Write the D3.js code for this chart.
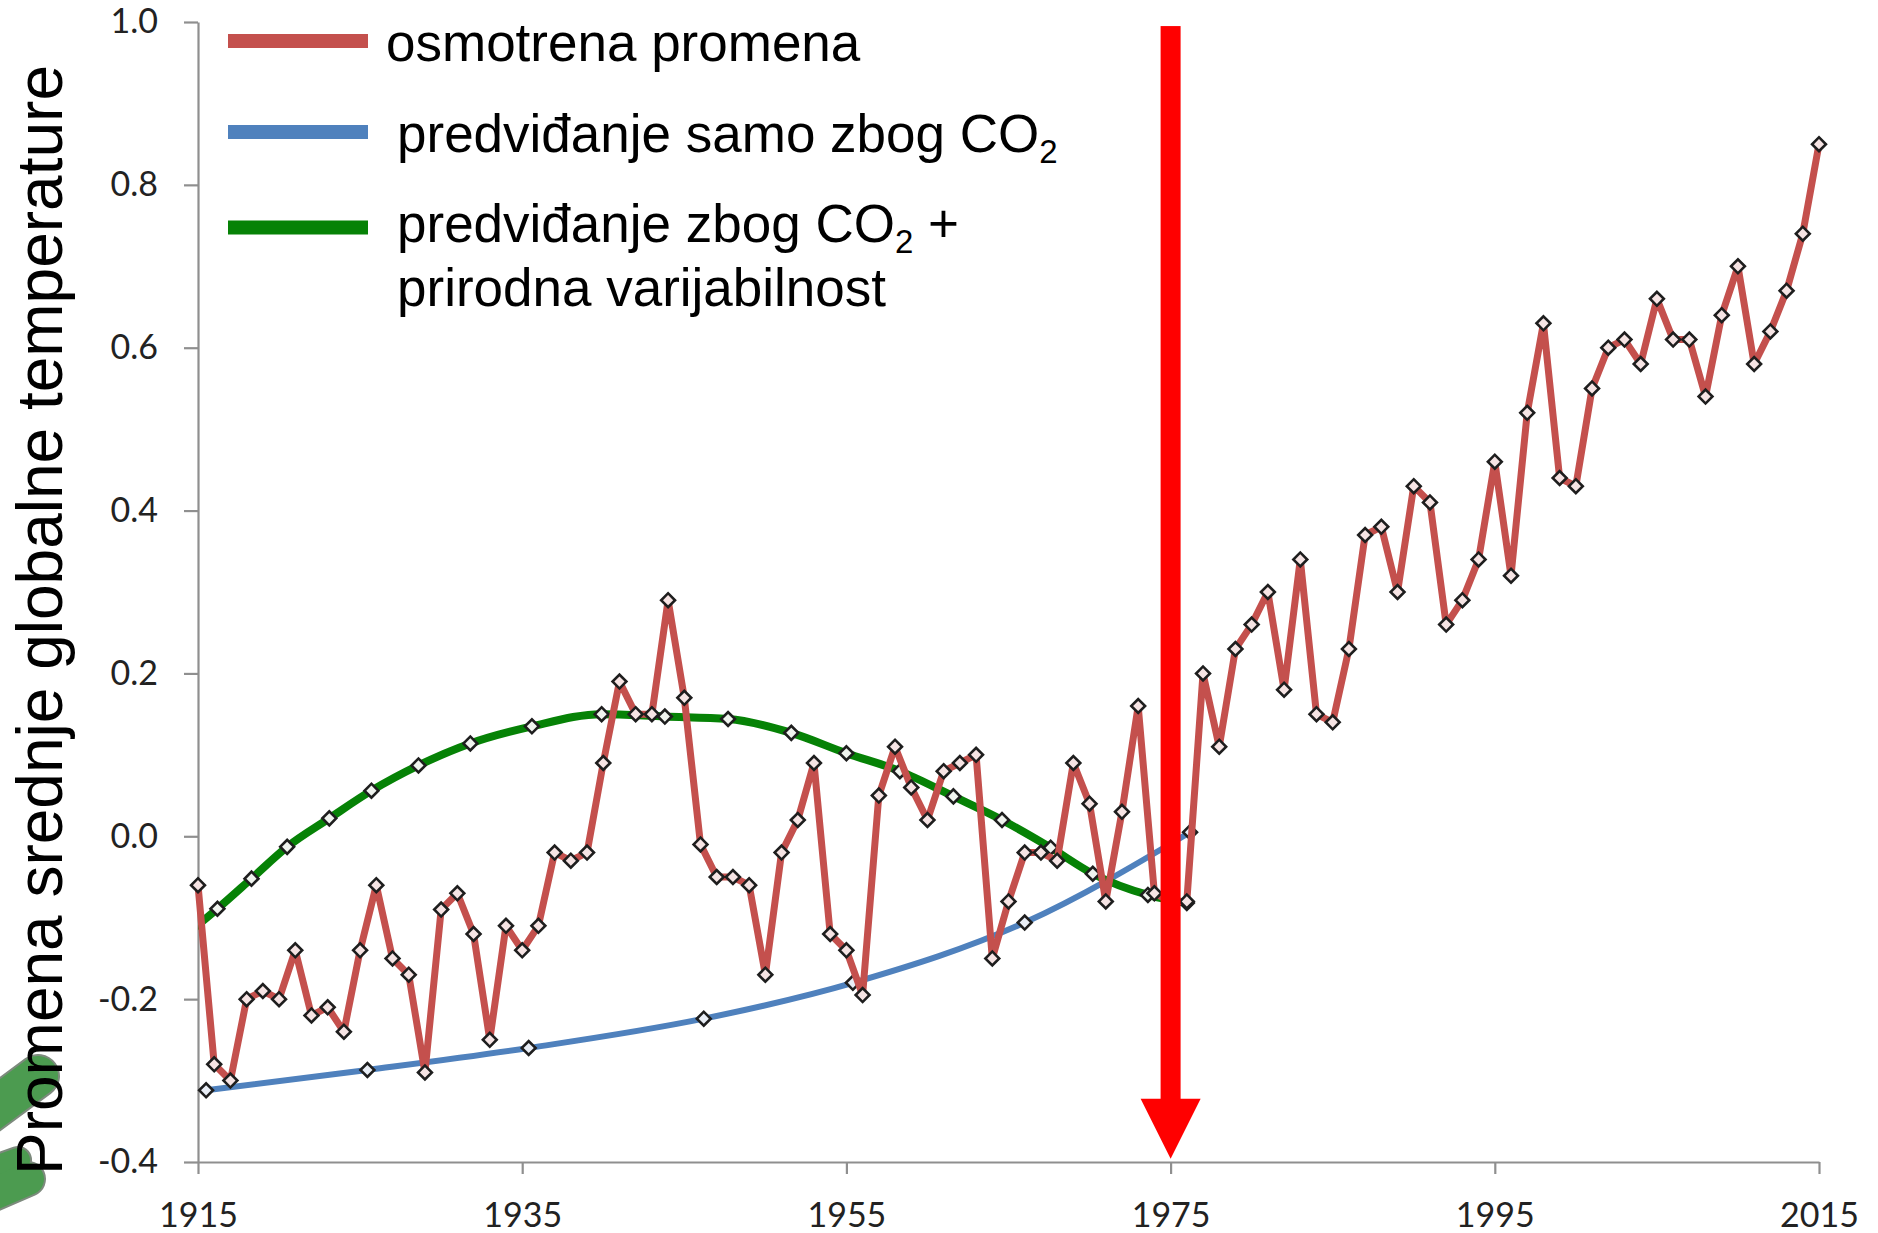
<!DOCTYPE html>
<html><head><meta charset="utf-8">
<script src="https://cdn.jsdelivr.net/npm/d3@7"></script>
<style>body{margin:0;background:#fff} svg{display:block}</style>
</head><body>
<svg id="c" width="1878" height="1233"></svg>
<script>
// ---------- data ----------
const xTicks = [1915, 1935, 1955, 1975, 1995, 2015];
const yTicks = [-0.4, -0.2, 0.0, 0.2, 0.4, 0.6, 0.8, 1.0];

const observedYears = d3.range(1915, 2016);
const observed = [
  -0.06, -0.28, -0.30, -0.20, -0.19, -0.20, -0.14, -0.22, -0.21, -0.24,
  -0.14, -0.06, -0.15, -0.17, -0.29, -0.09, -0.07, -0.12, -0.25, -0.11,
  -0.14, -0.11, -0.02, -0.03, -0.02, 0.09, 0.19, 0.15, 0.15, 0.29,
  0.17, -0.01, -0.05, -0.05, -0.06, -0.17, -0.02, 0.02, 0.09, -0.12,
  -0.14, -0.195, 0.05, 0.11, 0.06, 0.02, 0.08, 0.09, 0.10, -0.15,
  -0.08, -0.02, -0.02, -0.03, 0.09, 0.04, -0.08, 0.03, 0.16, -0.07,
  -0.08, -0.08, 0.20, 0.11, 0.23, 0.26, 0.30, 0.18, 0.34, 0.15,
  0.14, 0.23, 0.37, 0.38, 0.30, 0.43, 0.41, 0.26, 0.29, 0.34,
  0.46, 0.32, 0.52, 0.63, 0.44, 0.43, 0.55, 0.60, 0.61, 0.58,
  0.66, 0.61, 0.61, 0.54, 0.64, 0.70, 0.58, 0.62, 0.67, 0.74,
  0.85
];

const co2Years  = [1915.5, 1925.45, 1935.4, 1946.2, 1955.4, 1966.0, 1976.2];
const co2Values = [-0.312, -0.287, -0.260, -0.224, -0.180, -0.106, 0.005];

const natYears  = [1914.0, 1916.2, 1918.3, 1920.5, 1923.1, 1925.7, 1928.6, 1931.8, 1935.6, 1939.9,
                   1943.8, 1947.7, 1951.6, 1955.0, 1958.3, 1961.6, 1964.6, 1967.6, 1970.2, 1973.6, 1976.0];
const natValues = [-0.125, -0.089, -0.052, -0.013, 0.022, 0.056, 0.087, 0.114, 0.135, 0.150,
                   0.147, 0.144, 0.127, 0.102, 0.080, 0.049, 0.020, -0.014, -0.046, -0.072, -0.082];

const legendLabels = ["osmotrena promena", "predviđanje samo zbog CO", "predviđanje zbog CO", "prirodna varijabilnost"];
const axisTitle = "Promena srednje globalne temperature";
const arrowYear = 1975, arrowTop = 0.995, arrowTip = -0.396;

// ---------- setup ----------
const svg = d3.select("#c");
const x = d3.scaleLinear().domain([1915, 2015]).range([198, 1819]);
const y = d3.scaleLinear().domain([-0.4, 1.0]).range([1162, 22]);

const RED = "#c4504d", BLUE = "#4f81bd", GREEN = "#068206";

// decorative green blobs (bottom-left)
const blobs = [
  {x1: -16, y1: 1116, x2: 38, y2: 1076, w: 40},
  {x1: -16, y1: 1172, x2: 18, y2: 1160, w: 24},
  {x1: -16, y1: 1198, x2: 28, y2: 1179, w: 32}
];
const gb = svg.append("g");
blobs.forEach(b => {
  gb.append("line").attr("x1", b.x1).attr("y1", b.y1).attr("x2", b.x2).attr("y2", b.y2)
    .attr("stroke", "#7d8a7d").attr("stroke-width", b.w + 4).attr("stroke-linecap", "round");
});
blobs.forEach(b => {
  gb.append("line").attr("x1", b.x1).attr("y1", b.y1).attr("x2", b.x2).attr("y2", b.y2)
    .attr("stroke", "#4c9b50").attr("stroke-width", b.w).attr("stroke-linecap", "round");
});

// ---------- axes ----------
const yAxis = d3.axisLeft(y).tickValues(yTicks).tickFormat(d => d.toFixed(1))
  .tickSize(14).tickSizeOuter(0).tickPadding(26);
const xAxis = d3.axisBottom(x).tickValues(xTicks).tickFormat(d3.format("d"))
  .tickSize(12).tickSizeOuter(0).tickPadding(29);

const gy = svg.append("g").attr("transform", `translate(${x.range()[0]},0)`).call(yAxis);
const gx = svg.append("g").attr("transform", `translate(0,${y.range()[0]})`).call(xAxis);
[gx, gy].forEach(g => {
  g.selectAll("path.domain").attr("stroke", "#8f8f8f").attr("stroke-width", 2.2);
  g.selectAll(".tick line").attr("stroke", "#8f8f8f").attr("stroke-width", 2.2);
  g.selectAll(".tick text").attr("fill", "#222")
    .style("font-family", "Lato, 'Open Sans', sans-serif").style("font-size", "34px");
});

// y-axis title
svg.append("text")
  .attr("transform", `translate(62,620) rotate(-90)`)
  .attr("text-anchor", "middle")
  .style("font-family", "'Liberation Sans', Arial, sans-serif")
  .style("font-size", "64px").attr("fill", "#000")
  .text(axisTitle);

// ---------- series ----------
svg.append("defs").append("clipPath").attr("id", "plotclip")
  .append("rect").attr("x", x.range()[0]).attr("y", 0)
  .attr("width", x.range()[1] - x.range()[0] + 10).attr("height", 1162);

const diamond = d3.symbol().type(d3.symbolSquare).size(96);

function drawSeries(xs, vs, color, width, fill, curve, clip) {
  const pts = xs.map((xx, i) => [xx, vs[i]]);
  const g = svg.append("g");
  if (clip) g.attr("clip-path", "url(#plotclip)");
  const line = d3.line().x(d => x(d[0])).y(d => y(d[1])).curve(curve);
  g.append("path").datum(pts).attr("d", line).attr("fill", "none")
    .attr("stroke", color).attr("stroke-width", width)
    .attr("stroke-linejoin", "round").attr("stroke-linecap", "round");
  g.selectAll("path.m").data(pts).join("path").attr("class", "m")
    .attr("d", diamond)
    .attr("transform", d => `translate(${x(d[0])},${y(d[1])}) rotate(45)`)
    .attr("fill", fill).attr("stroke", "#1e1e1e").attr("stroke-width", 2.6);
}

drawSeries(co2Years, co2Values, BLUE, 6, "#e9eef6", d3.curveMonotoneX, false);
drawSeries(natYears, natValues, GREEN, 8, "#f0f4ef", d3.curveMonotoneX, true);
drawSeries(observedYears, observed, RED, 7, "#f6e4e4", d3.curveLinear, false);

// ---------- legend ----------
const legendColors = [RED, BLUE, GREEN];
const legendLineY = [41, 132, 227.5];
legendColors.forEach((c, i) => {
  svg.append("line").attr("x1", 228).attr("x2", 368)
    .attr("y1", legendLineY[i]).attr("y2", legendLineY[i])
    .attr("stroke", c).attr("stroke-width", 14);
});
const lf = "'Liberation Sans', Arial, sans-serif";
function legText(xp, yp) {
  return svg.append("text").attr("x", xp).attr("y", yp)
    .style("font-family", lf).style("font-size", "53px").attr("fill", "#000");
}
legText(386, 61).text(legendLabels[0]);
const t2 = legText(397, 152);
t2.append("tspan").text(legendLabels[1]);
t2.append("tspan").attr("dy", 11).style("font-size", "33px").text("2");
const t3 = legText(397, 242);
t3.append("tspan").text(legendLabels[2]);
t3.append("tspan").attr("dy", 11).style("font-size", "33px").text("2");
t3.append("tspan").attr("dy", -11).text(" +");
legText(397, 306).text(legendLabels[3]);

// ---------- red arrow ----------
const ax = x(arrowYear);
const headTop = y(arrowTip) - 60;
svg.append("rect").attr("x", ax - 10).attr("y", y(arrowTop))
  .attr("width", 20).attr("height", headTop - y(arrowTop) + 1).attr("fill", "#ff0000");
svg.append("path")
  .attr("d", `M${ax - 30},${headTop} L${ax + 30},${headTop} L${ax},${y(arrowTip)} Z`)
  .attr("fill", "#ff0000");
</script>
</body></html>
